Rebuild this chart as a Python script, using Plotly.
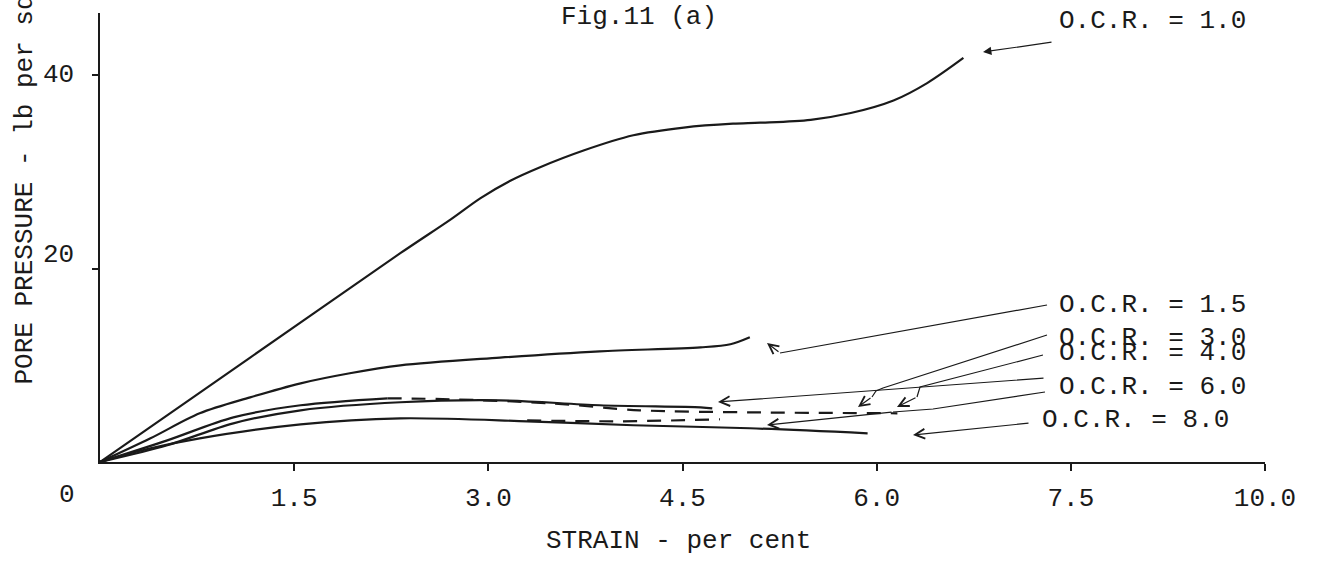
import plotly.graph_objects as go

# ---------------- data (strain %, pore pressure lb/sq in) ----------------
strain_ocr_1_0 = [0, 1.16, 2.32, 2.71, 2.94, 3.17, 3.40, 3.73, 4.12, 4.51, 4.89, 5.10, 5.49, 5.80, 6.13, 6.39, 6.67]
pp_ocr_1_0 = [0, 10.8, 21.6, 25.1, 27.3, 29.1, 30.5, 32.2, 33.8, 34.6, 35.0, 35.1, 35.4, 36.1, 37.4, 39.2, 41.8]

strain_ocr_1_5 = [0, 0.39, 0.77, 1.16, 1.55, 1.93, 2.32, 3.09, 3.86, 4.64, 4.87, 5.02]
pp_ocr_1_5 = [0, 2.45, 5.04, 6.69, 8.14, 9.18, 10.0, 10.8, 11.45, 11.86, 12.18, 12.9]

strain_ocr_3_0_solid = [0, 0.52, 1.03, 1.55, 2.22]
pp_ocr_3_0_solid = [0, 2.24, 4.62, 5.87, 6.59]
strain_ocr_3_0_dash = [2.22, 2.71, 3.48, 4.17, 5.02, 6.16]
pp_ocr_3_0_dash = [6.59, 6.49, 6.07, 5.35, 5.14, 5.04]

strain_ocr_6_0 = [0, 0.52, 1.03, 1.55, 2.32, 3.09, 3.86, 4.64, 4.73]
pp_ocr_6_0 = [0, 1.73, 4.0, 5.35, 6.18, 6.38, 5.87, 5.66, 5.55]

strain_ocr_4_0_dash = [3.30, 4.02, 4.79]
pp_ocr_4_0_dash = [4.31, 4.21, 4.42]

strain_ocr_8_0 = [0, 0.39, 0.77, 1.55, 2.32, 3.30, 4.12, 5.02, 5.93]
pp_ocr_8_0 = [0, 1.42, 2.45, 3.90, 4.52, 4.21, 3.80, 3.49, 2.97]

x_tick_vals = [1.5, 3.0, 4.5, 6.0, 7.5, 9.0]
x_tick_text = ["1.5", "3.0", "4.5", "6.0", "7.5", "10.0"]
y_tick_vals = [20, 40]
y_tick_text = ["20", "40"]

labels = ["O.C.R. = 1.0", "O.C.R. = 1.5", "O.C.R. = 3.0", "O.C.R. = 4.0", "O.C.R. = 6.0", "O.C.R. = 8.0"]

# ---------------- layout geometry ----------------
W, H = 1332, 561
L, R, T, B = 100, 67, 13, 99
X_MAX = 9.0
Y_MAX = 46.45
FONT = "Liberation Mono"
INK = "#1a1a1a"
FS = 26


def px_x(px):
    return (px - L) / (W - L - R) * X_MAX


def px_y(py):
    return (H - B - py) / (H - T - B) * Y_MAX


fig = go.Figure()

solid = dict(color=INK, width=2.2, shape="spline", smoothing=0.9)
dashed = dict(color=INK, width=2.2, dash="14px,10px", shape="spline", smoothing=0.9)

for xs, ys, ln in [
    (strain_ocr_1_0, pp_ocr_1_0, solid),
    (strain_ocr_1_5, pp_ocr_1_5, solid),
    (strain_ocr_3_0_solid, pp_ocr_3_0_solid, solid),
    (strain_ocr_3_0_dash, pp_ocr_3_0_dash, dashed),
    (strain_ocr_6_0, pp_ocr_6_0, solid),
    (strain_ocr_4_0_dash, pp_ocr_4_0_dash, dashed),
    (strain_ocr_8_0, pp_ocr_8_0, solid),
]:
    fig.add_trace(go.Scatter(x=xs, y=ys, mode="lines", line=ln, showlegend=False, hoverinfo="skip"))

annotations = []
shapes = []

# curve labels (left x px, centre y px)
label_pos = [(1057, 21), (1057, 305), (1057, 338), (1057, 353), (1057, 387), (1040, 420)]
for text, (lx, ly) in zip(labels, label_pos):
    annotations.append(dict(x=px_x(lx), y=px_y(ly), xref="x", yref="y", text=text,
                            showarrow=False, xanchor="left", yanchor="middle",
                            font=dict(family=FONT, size=FS, color=INK)))

# leader lines (pixel paths, last point is arrow tip)
leaders = [
    ([(1053, 42), (983, 52)], 2),
    ([(1047, 305), (780, 353), (767, 343)], 5),
    ([(1047, 335), (883, 388), (876, 391), (872, 397), (858, 407)], 5),
    ([(1043, 355), (920, 387), (917, 397), (897, 407)], 5),
    ([(1045, 378), (718, 402)], 5),
    ([(1045, 392), (933, 409), (893, 412), (767, 425)], 5),
    ([(1030, 423), (913, 435)], 5),
]
for pts, head in leaders:
    if len(pts) > 2:
        path = "M " + " L ".join(f"{px_x(a)},{px_y(b)}" for a, b in pts[:-1])
        shapes.append(dict(type="path", path=path, xref="x", yref="y",
                           line=dict(color=INK, width=1.2)))
    (ax_, ay_), (tx, ty) = pts[-2], pts[-1]
    annotations.append(dict(x=px_x(tx), y=px_y(ty), ax=px_x(ax_), ay=px_y(ay_),
                            xref="x", yref="y", axref="x", ayref="y", text="",
                            showarrow=True, arrowhead=head, arrowsize=1.6 if head == 5 else 1.4,
                            arrowwidth=1.2, arrowcolor=INK, standoff=0))

# y tick labels, hand-placed like the scan ("20" sits a little above its tick)
y_label_shift_px = [-14, 0]
for v, t, dy in zip(y_tick_vals, y_tick_text, y_label_shift_px):
    annotations.append(dict(x=(76 - L) / (W - L - R), y=v, xref="paper", yref="y", yshift=-dy,
                            text=t, showarrow=False, xanchor="right", yanchor="middle",
                            font=dict(family=FONT, size=FS, color=INK)))

# title
annotations.append(dict(x=(639 - L) / (W - L - R), y=(H - B - 17) / (H - T - B), xref="paper", yref="paper",
                        text="Fig.11 (a)", showarrow=False, xanchor="center", yanchor="middle",
                        font=dict(family=FONT, size=FS, color=INK)))
# origin label
annotations.append(dict(x=(67 - L) / (W - L - R), y=(H - B - 495) / (H - T - B), xref="paper", yref="paper",
                        text="0", showarrow=False, xanchor="center", yanchor="middle",
                        font=dict(family=FONT, size=FS, color=INK)))
# x axis title
annotations.append(dict(x=(678 - L) / (W - L - R), y=(H - B - 541) / (H - T - B), xref="paper", yref="paper",
                        text="STRAIN - per cent", showarrow=False, xanchor="center", yanchor="middle",
                        font=dict(family=FONT, size=FS, color=INK)))
# y axis title (rotated, runs off the top like the scan)
annotations.append(dict(x=(24 - L) / (W - L - R), y=(H - B - 387) / (H - T - B), xref="paper", yref="paper",
                        text="PORE PRESSURE - lb per sq in", showarrow=False, textangle=-90,
                        xanchor="center", yanchor="bottom",
                        font=dict(family=FONT, size=FS, color=INK)))

fig.update_layout(
    width=W, height=H,
    margin=dict(l=L, r=R, t=T, b=B, autoexpand=False),
    paper_bgcolor="white", plot_bgcolor="white",
    showlegend=False,
    annotations=annotations,
    shapes=shapes,
    xaxis=dict(range=[0, X_MAX], showgrid=False, zeroline=False, showline=True, linecolor=INK, linewidth=2,
               ticks="outside", ticklen=7, tickwidth=2, tickcolor=INK,
               tickvals=x_tick_vals, ticktext=x_tick_text, ticklabelstandoff=4,
               tickfont=dict(family=FONT, size=FS, color=INK)),
    yaxis=dict(range=[0, Y_MAX], showgrid=False, zeroline=False, showline=True, linecolor=INK, linewidth=2,
               ticks="outside", ticklen=6, tickwidth=2, tickcolor=INK,
               tickvals=y_tick_vals, showticklabels=False),
)

fig.write_html("out.html")
